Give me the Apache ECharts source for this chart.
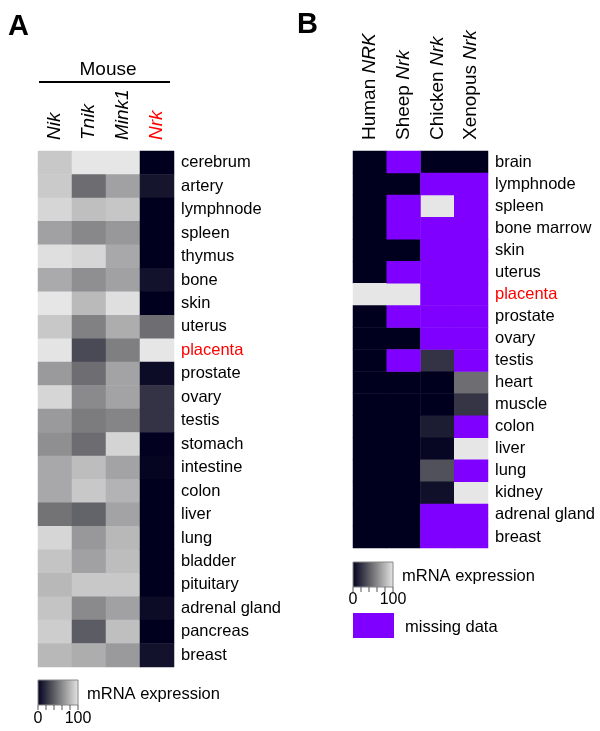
<!DOCTYPE html>
<html>
<head>
<meta charset="utf-8">
<title>Nrk expression heatmaps</title>
<script src="https://cdn.jsdelivr.net/npm/echarts@6/dist/echarts.min.js"></script>
<style>
  html, body { margin: 0; padding: 0; background: #fff; }
  #chart { width: 600px; height: 731px; }
</style>
</head>
<body>
<div id="chart"></div>
<script>
// Panel A: mouse tissues
const mouseTissues = ['cerebrum', 'artery', 'lymphnode', 'spleen', 'thymus', 'bone', 'skin', 'uterus',
  'placenta', 'prostate', 'ovary', 'testis', 'stomach', 'intestine', 'colon', 'liver', 'lung',
  'bladder', 'pituitary', 'adrenal gland', 'pancreas', 'breast'];
const mouseGenes = ['Nik', 'Tnik', 'Mink1', 'Nrk'];
const nikValues   = [87, 88, 93, 70, 97, 74, 100, 87, 99, 67, 93, 67, 62, 73, 73, 50, 93, 85, 80, 85, 89, 80];
const tnikValues  = [100, 47, 83, 59, 93, 62, 81, 56, 32, 48, 60, 54, 47, 82, 87, 43, 66, 70, 87, 60, 40, 75];
const mink1Values = [100, 70, 86, 66, 73, 70, 97, 75, 55, 71, 71, 58, 92, 71, 78, 71, 80, 82, 87, 70, 83, 67];
const nrkValues   = [0, 9, 0, 0, 0, 8, 0, 48, 100, 5, 22, 22, 1, 2, 0, 0, 0, 0, 0, 5, 0, 8];

// Panel B: other species (null = missing data)
const speciesTissues = ['brain', 'lymphnode', 'spleen', 'bone marrow', 'skin', 'uterus', 'placenta',
  'prostate', 'ovary', 'testis', 'heart', 'muscle', 'colon', 'liver', 'lung', 'kidney',
  'adrenal gland', 'breast'];
const speciesNames = [['Human', 'NRK'], ['Sheep', 'Nrk'], ['Chicken', 'Nrk'], ['Xenopus', 'Nrk']];
const humanValues   = [0, 0, 0, 0, 0, 0, 100, 0, 0, 0, 0, 0, 0, 0, 0, 0, 0, 0];
const sheepValues   = [null, 0, null, null, 0, null, 100, null, 0, null, 0, 0, 0, 0, 0, 0, 0, 0];
const chickenValues = [0, null, 100, null, null, null, null, null, null, 22, 0, 0, 12, 3, 35, 7, null, null];
const xenopusValues = [0, null, null, null, null, null, null, null, null, null, 48, 23, null, 100, null, 100, null, null];

const FONT = "'Liberation Sans', Arial, sans-serif";
const PURPLE = '#7f00ff';
const RAMP = ['#00001e', '#737376', '#e6e6e6'];

function toCells(columns) {
  const cells = [];
  const missing = [];
  columns.forEach((col, x) => {
    col.forEach((v, y) => {
      if (v === null) missing.push([x, y, 1]);
      else cells.push([x, y, v]);
    });
  });
  return { cells, missing };
}

const a = toCells([nikValues, tnikValues, mink1Values, nrkValues]);
const b = toCells([humanValues, sheepValues, chickenValues, xenopusValues]);

const redIfPlacenta = v => (v === 'placenta' ? '#ff0000' : '#000');

// colour key: gradient box + ticks + labels
function colorKey(x, y, labelY) {
  const items = [{
    type: 'rect',
    shape: { x: x, y: y, width: 40, height: 25 },
    style: {
      fill: new echarts.graphic.LinearGradient(0, 0, 1, 0, [
        { offset: 0, color: RAMP[0] }, { offset: 0.5, color: RAMP[1] }, { offset: 1, color: RAMP[2] }
      ]),
      stroke: '#888', lineWidth: 1
    }
  }];
  for (let i = 0; i <= 5; i++) {
    items.push({
      type: 'line',
      shape: { x1: x + i * 8, y1: y + 25, x2: x + i * 8, y2: y + 30 },
      style: { stroke: '#555', lineWidth: 1 }
    });
  }
  items.push({ type: 'text', x: x, y: labelY, style: { text: '0', font: '16px ' + FONT, fill: '#000', align: 'center', verticalAlign: 'middle' } });
  items.push({ type: 'text', x: x + 40, y: labelY, style: { text: '100', font: '16px ' + FONT, fill: '#000', align: 'center', verticalAlign: 'middle' } });
  items.push({ type: 'text', x: x + 49, y: y + 14, style: { text: 'mRNA expression', font: '16.5px ' + FONT, fill: '#000', verticalAlign: 'middle' } });
  return items;
}

const chart = echarts.init(document.getElementById('chart'));

chart.setOption({
  animation: false,
  backgroundColor: '#fff',
  textStyle: { fontFamily: FONT },
  grid: [
    { left: 38, top: 151, width: 136, height: 516 },
    { left: 353, top: 151, width: 135, height: 397 }
  ],
  xAxis: [
    {
      type: 'category', gridIndex: 0, position: 'top', data: mouseGenes,
      axisLine: { show: false }, axisTick: { show: false }, splitLine: { show: false },
      axisLabel: {
        rotate: -90, margin: 11, interval: 0, fontSize: 19, fontStyle: 'italic', fontFamily: FONT,
        color: v => (v === 'Nrk' ? '#ff0000' : '#000')
      }
    },
    {
      type: 'category', gridIndex: 1, position: 'top',
      data: speciesNames.map(s => s.join(' ')),
      axisLine: { show: false }, axisTick: { show: false }, splitLine: { show: false },
      axisLabel: {
        rotate: -90, margin: 11, interval: 0,
        formatter: (v, i) => '{n|' + speciesNames[i][0] + ' }{i|' + speciesNames[i][1] + '}',
        rich: {
          n: { fontSize: 19, fontFamily: FONT, color: '#000' },
          i: { fontSize: 19, fontFamily: FONT, fontStyle: 'italic', color: '#000' }
        }
      }
    }
  ],
  yAxis: [
    {
      type: 'category', gridIndex: 0, position: 'right', inverse: true, data: mouseTissues,
      axisLine: { show: false }, axisTick: { show: false }, splitLine: { show: false },
      axisLabel: { margin: 7, interval: 0, fontSize: 16.5, fontFamily: FONT, color: redIfPlacenta }
    },
    {
      type: 'category', gridIndex: 1, position: 'right', inverse: true, data: speciesTissues,
      axisLine: { show: false }, axisTick: { show: false }, splitLine: { show: false },
      axisLabel: { margin: 7, interval: 0, fontSize: 16.5, fontFamily: FONT, color: redIfPlacenta }
    }
  ],
  visualMap: {
    show: false, type: 'continuous', min: 0, max: 100,
    seriesIndex: [0, 1], inRange: { color: RAMP }
  },
  series: [
    { type: 'heatmap', xAxisIndex: 0, yAxisIndex: 0, data: a.cells },
    { type: 'heatmap', xAxisIndex: 1, yAxisIndex: 1, data: b.cells },
    { type: 'heatmap', xAxisIndex: 1, yAxisIndex: 1, data: b.missing, itemStyle: { color: PURPLE } }
  ],
  graphic: [
    { type: 'text', x: 8, y: 12, style: { text: 'A', font: 'bold 29px ' + FONT, fill: '#000' } },
    { type: 'text', x: 297, y: 10, style: { text: 'B', font: 'bold 29px ' + FONT, fill: '#000' } },
    { type: 'text', x: 108, y: 70, style: { text: 'Mouse', font: '19px ' + FONT, fill: '#000', align: 'center', verticalAlign: 'middle' } },
    { type: 'line', shape: { x1: 39, y1: 82, x2: 170, y2: 82 }, style: { stroke: '#000', lineWidth: 2 } },
    ...colorKey(38, 680, 719),
    ...colorKey(353, 562, 600),
    { type: 'rect', shape: { x: 353, y: 613, width: 41, height: 25 }, style: { fill: PURPLE } },
    { type: 'text', x: 405, y: 627, style: { text: 'missing data', font: '16.5px ' + FONT, fill: '#000', verticalAlign: 'middle' } }
  ]
});
</script>
</body>
</html>
